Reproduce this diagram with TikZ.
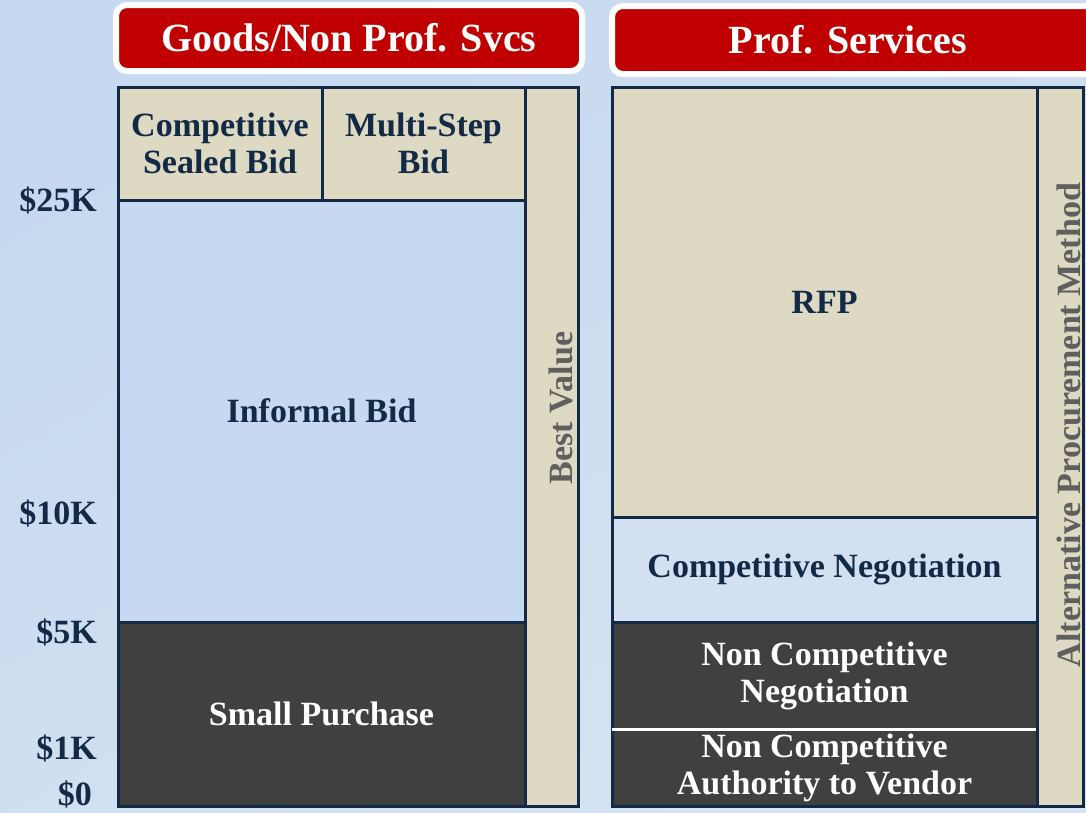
\documentclass[tikz,border=0pt]{standalone}
\usepackage{fontspec}
\setmainfont{Liberation Serif}
\usetikzlibrary{positioning}
\definecolor{bgblue}{HTML}{C6D9F0}
\definecolor{bglight}{HTML}{D6E3F2}
\definecolor{hdrred}{HTML}{C00000}
\definecolor{tan}{HTML}{DDD9C3}
\definecolor{paleblue}{HTML}{D2E0F1}
\definecolor{darkcell}{HTML}{404040}
\definecolor{navy}{HTML}{132A46}
\definecolor{vgray}{HTML}{5F5F5F}
\newcommand{\bodyfont}{\fontsize{34}{37}\selectfont\bfseries}
\newcommand{\hdrfont}{\fontsize{40}{44}\selectfont\bfseries}
\tikzset{
  cell/.style={draw=navy, line width=3pt, inner sep=0pt, outer sep=0pt, anchor=north west,
    align=center, font=\bodyfont, text=navy},
  tancell/.style={cell, fill=tan},
  bluecell/.style={cell, fill=bgblue},
  darkcell/.style={cell, fill=darkcell, text=white},
  sidebar/.style={tancell, text=vgray},
  sidetext/.style={text=vgray, font=\bodyfont, rotate=90, inner sep=0pt},
  header/.style={draw=white, line width=6pt, fill=hdrred, rounded corners=11pt,
    text=white, font=\hdrfont, inner sep=0pt},
  amount/.style={anchor=east, font=\bodyfont, text=navy, inner sep=0pt}
}
\begin{document}
\begin{tikzpicture}[x=1pt,y=-1pt]
\useasboundingbox (0,0) rectangle (1086,812);
\shade[top color=bgblue, bottom color=bglight, shading angle=30] (0,0) rectangle (1086,812);

\node[header, minimum width=466pt, minimum height=66pt] (goodshdr) at (349,38) {Goods/Non Prof. Svcs};
\node[header, minimum width=484pt, minimum height=68pt, anchor=west] (profhdr) at (609,40) {};
\node[text=white, font=\hdrfont] (proftxt) at (848,40) {Prof. Services};

\node[tancell, minimum width=204pt, minimum height=113pt] (csb) at (118,87) {Competitive\\Sealed Bid};
\node[tancell, minimum width=203pt, minimum height=113pt, right=0pt of csb] (msb) {Multi-Step\\Bid};
\node[bluecell, minimum width=407pt, minimum height=422pt, below=0pt of csb.south west, anchor=north west] (informal) {Informal Bid};
\node[darkcell, minimum width=407pt, minimum height=184pt, below=0pt of informal.south west, anchor=north west] (small) {Small Purchase};
\node[sidebar, minimum width=53pt, minimum height=719pt, right=0pt of msb.north east, anchor=north west] (bestval) {};
\node[sidetext] (bvtext) at (561,408) {Best Value};

\node[tancell, minimum width=425pt, minimum height=430pt] (rfp) at (612,87) {RFP};
\node[cell, fill=paleblue, minimum width=425pt, minimum height=105pt, below=0pt of rfp.south west, anchor=north west] (compneg) {Competitive Negotiation};
\node[darkcell, minimum width=425pt, minimum height=107pt, below=0pt of compneg.south west, anchor=north west] (ncneg) {Non Competitive\\Negotiation};
\node[darkcell, minimum width=425pt, minimum height=77pt, below=0pt of ncneg.south west, anchor=north west] (ncauth) {Non Competitive\\Authority to Vendor};
\draw[white, line width=3pt] (ncneg.south west) -- (ncneg.south east);
\node[sidebar, minimum width=46pt, minimum height=719pt, right=0pt of rfp.north east, anchor=north west] (altpm) {};
\node[sidetext] (alttext) at (1069,425) {Alternative Procurement Method};

\node[amount] (k25) at (97,200) {\$25K};
\node[amount] (k10) at (97,513) {\$10K};
\node[amount] (k5) at (97,632) {\$5K};
\node[amount] (k1) at (97,748) {\$1K};
\node[amount] (k0) at (92,794) {\$0};
\end{tikzpicture}
\end{document}
